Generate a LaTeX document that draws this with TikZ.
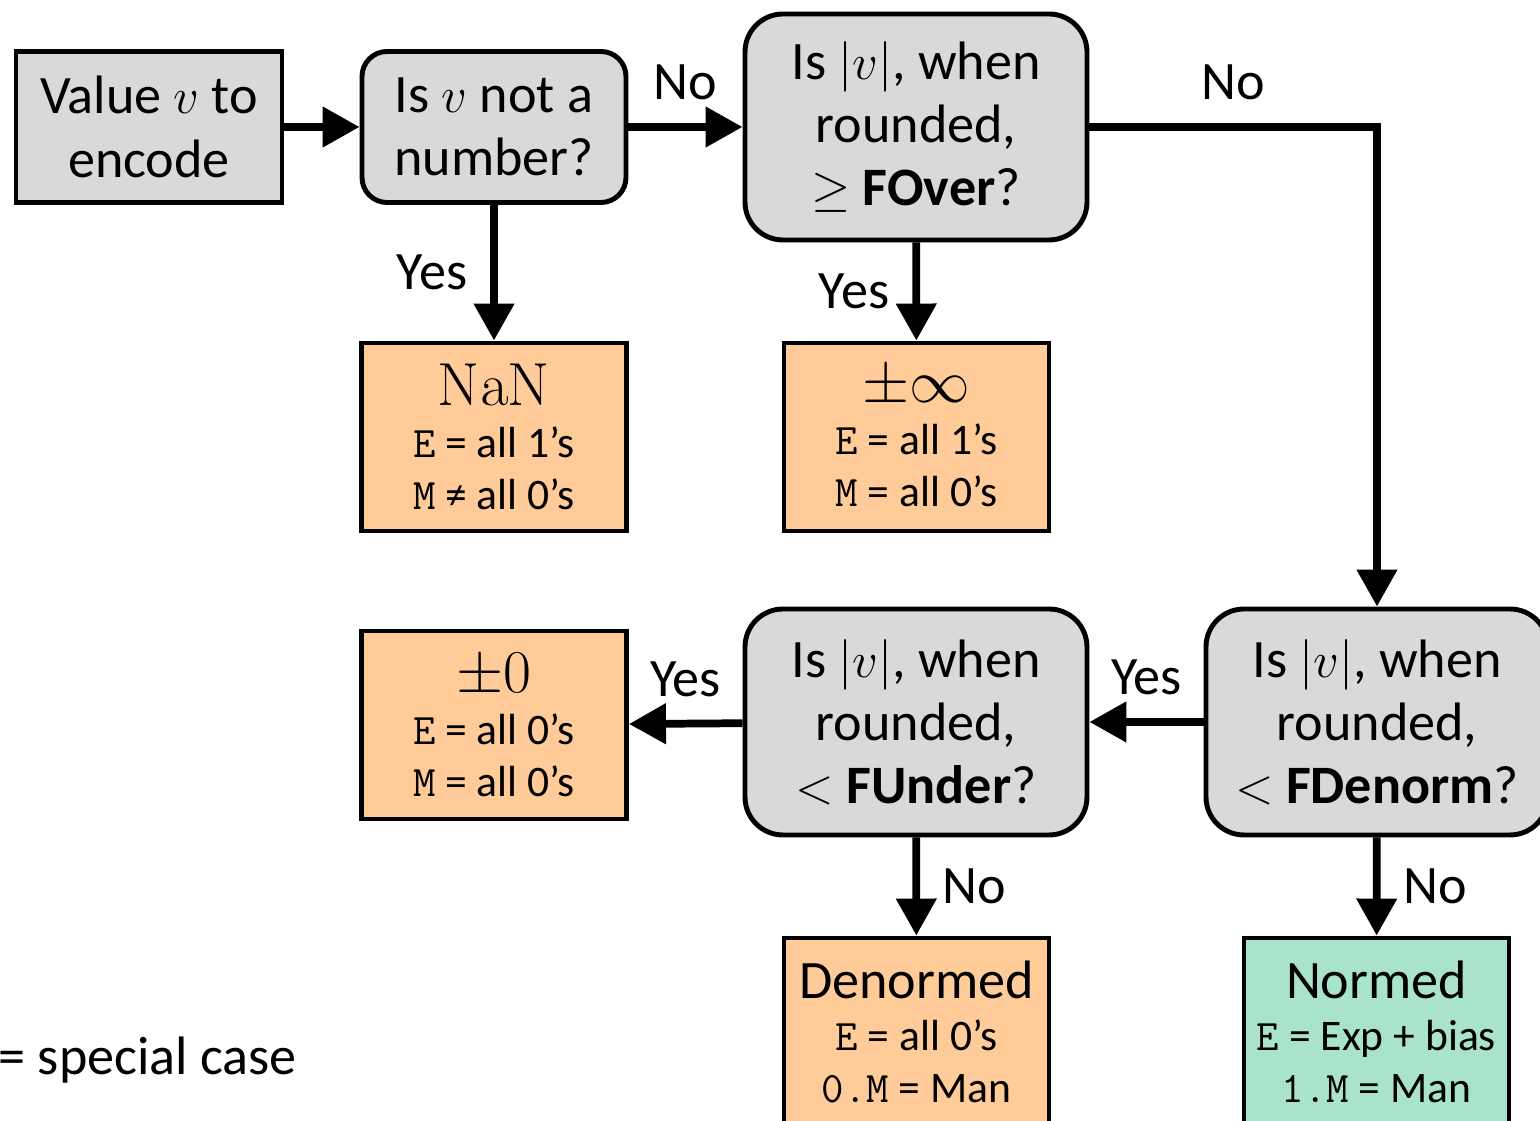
\documentclass[tikz,border=0pt]{standalone}
\usepackage[no-math]{fontspec}
\setmainfont{Carlito}
\usetikzlibrary{arrows.meta}
\definecolor{qgray}{HTML}{D9D9D9}
\definecolor{spec}{HTML}{FFCC99}
\definecolor{normc}{HTML}{A9E3CB}

\begin{document}
\begin{tikzpicture}[
  big/.style={font=\fontsize{15.4}{18}\selectfont},
  small/.style={font=\fontsize{12.4}{14.8}\selectfont},
  box/.style={draw,line width=1.4pt,align=center,inner sep=0pt},
  start/.style={box,big,fill=qgray,minimum width=2.66cm,minimum height=1.51cm},
  test/.style={box,big,fill=qgray,rounded corners=0.25cm,minimum width=2.64cm,minimum height=1.51cm},
  wide/.style={box,big,fill=qgray,rounded corners=0.38cm,minimum width=3.42cm,minimum height=2.26cm},
  result/.style={box,small,fill=spec,minimum width=2.65cm,minimum height=1.88cm},
  arr/.style={line width=2.2pt,-{Triangle[length=0.37cm,width=0.39cm]}},
  lbl/.style={big,inner sep=6.5pt}
]
\useasboundingbox (0,0) rectangle (15.4,-11.21);

\node[start] (val) at (1.49,-1.27) {Value $v$ to\\encode};
\node[test] (isnan) at (4.94,-1.27) {Is $v$ not a\\number?};
\node[wide] (fover) at (9.16,-1.27) {Is $|v|$, when\\rounded,\\$\geq$ \textbf{FOver}?};

\node[result] (nan) at (4.94,-4.37) {{\fontsize{17}{14.8}\selectfont$\mathrm{NaN}$}\\\texttt{E} = all 1’s\\\texttt{M} ≠ all 0’s};
\node[result] (inf) at (9.165,-4.37) {{\fontsize{17}{14.8}\selectfont$\pm\infty$}\\\texttt{E} = all 1’s\\\texttt{M} = all 0’s};

\node[result] (zero) at (4.94,-7.25) {{\fontsize{17}{14.8}\selectfont$\pm0$}\\\texttt{E} = all 0’s\\\texttt{M} = all 0’s};
\node[wide] (funder) at (9.16,-7.22) {Is $|v|$, when\\rounded,\\$<$ \textbf{FUnder}?};
\node[wide] (fdenorm) at (13.77,-7.22) {Is $|v|$, when\\rounded,\\$<$ \textbf{FDenorm}?};

\node[result] (den) at (9.165,-10.32) {{\fontsize{15.4}{14.8}\selectfont Denormed}\\\texttt{E} = all 0’s\\\texttt{0.M} = Man};
\node[result,fill=normc] (norm) at (13.765,-10.32) {{\fontsize{15.4}{14.8}\selectfont Normed}\\\texttt{E} = Exp + bias\\\texttt{1.M} = Man};

\node[big,anchor=west,inner sep=0pt] (note) at (-0.02,-10.6) {= special case};

\draw[arr] (val) -- (isnan);
\draw[arr] (isnan) -- node[lbl,above] {No} (fover);
\draw[arr] (isnan) -- node[lbl,left] {Yes} (nan);
\draw[arr] (fover) -- node[lbl,left] {Yes} (inf);
\draw[arr] (fover.east) -| node[lbl,above,pos=0.25] {No} (fdenorm.north);
\draw[arr] (fdenorm) -- node[lbl,above] {Yes} (funder);
\draw[arr] (funder) -- node[lbl,above] {Yes} (zero);
\draw[arr] (funder) -- node[lbl,right] {No} (den);
\draw[arr] (fdenorm) -- node[lbl,right] {No} (norm);
\end{tikzpicture}
\end{document}
